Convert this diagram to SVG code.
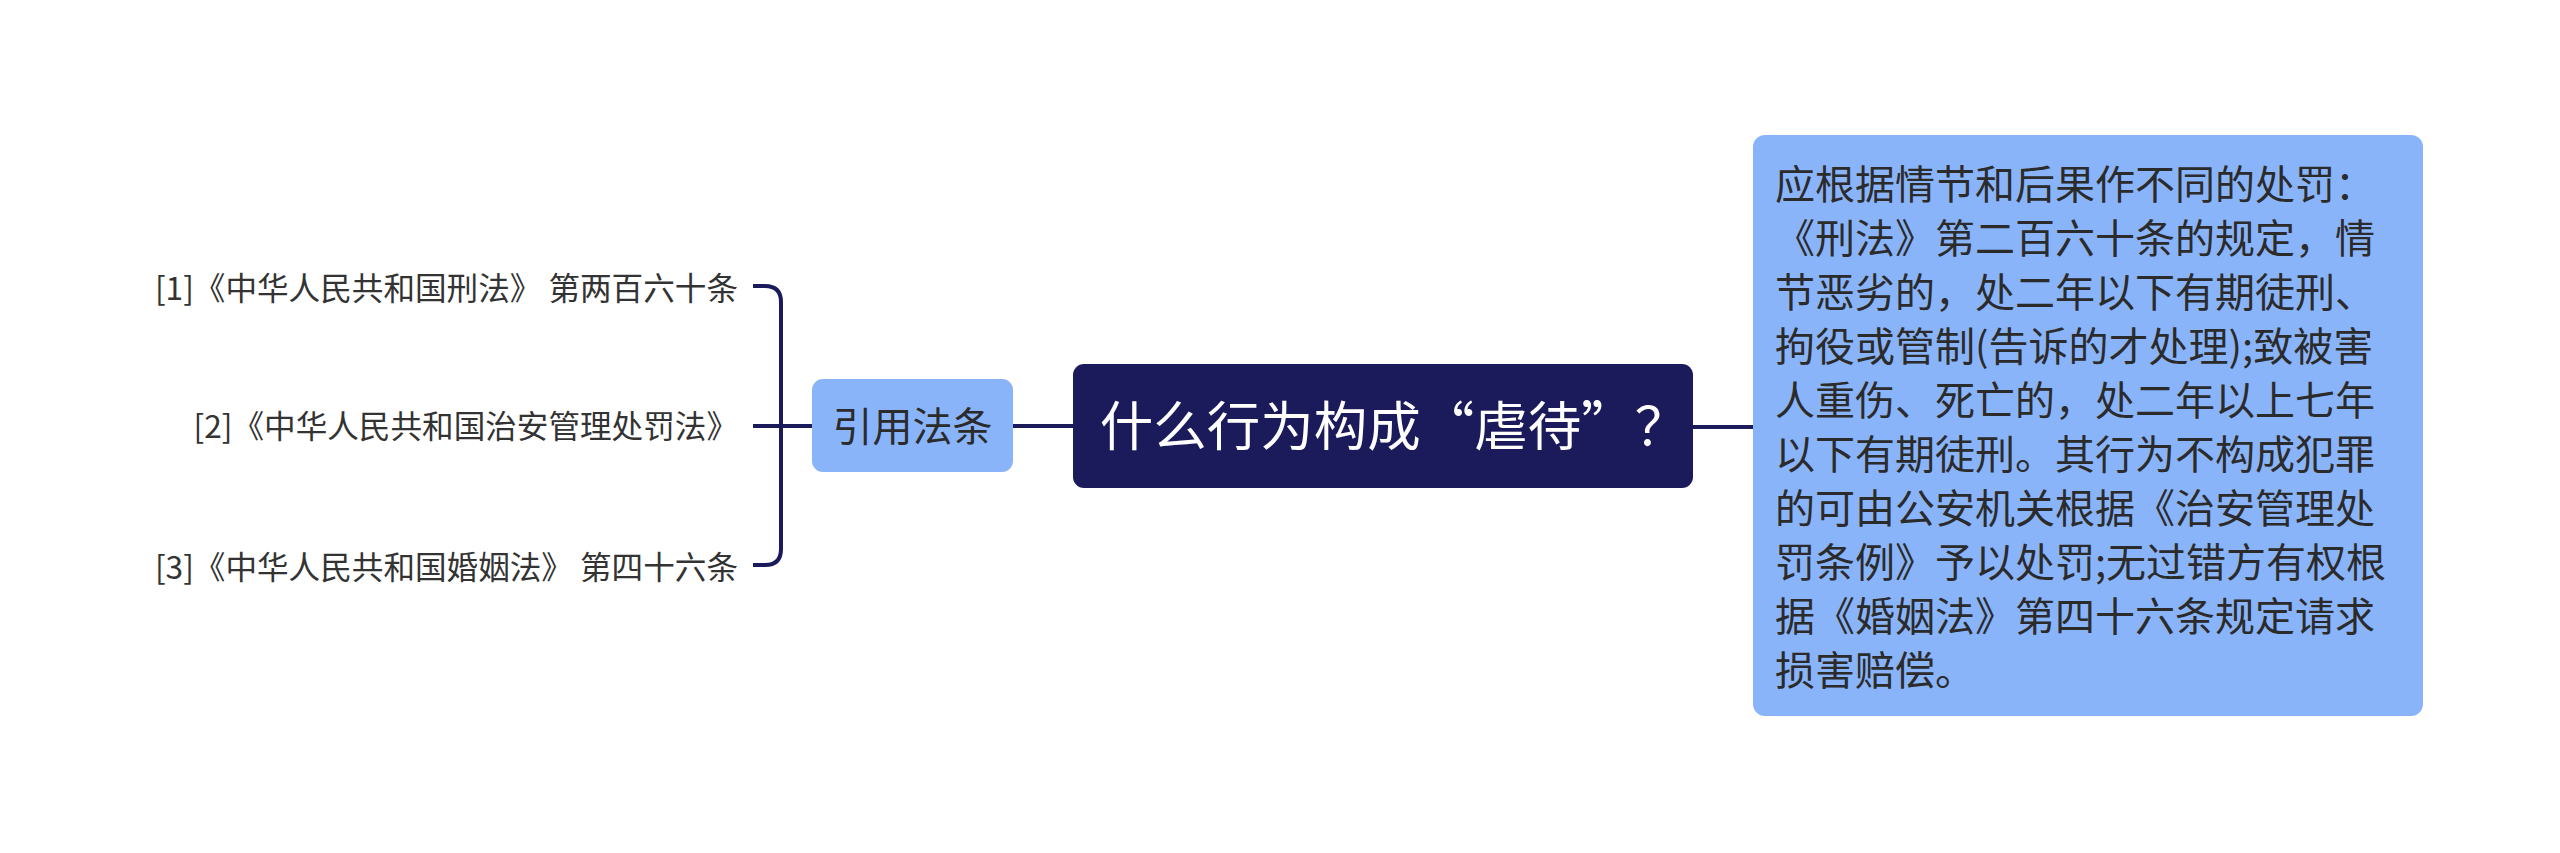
<svg xmlns="http://www.w3.org/2000/svg" width="2560" height="853" viewBox="0 0 2560 853">
<style>
.cjk{font-family:"Noto Sans CJK SC","Microsoft YaHei",sans-serif}
.leaf{font-size:31.6px;fill:#333333;text-anchor:end}
.link{fill:none;stroke:#1b1a5b;stroke-width:4;stroke-linecap:butt}
.light{fill:#8ab4f9}
.body{font-size:40px;fill:#2b2b2b}
</style>
<rect width="2560" height="853" fill="#ffffff"/>
<g id="connectors">
<path class="link" d="M753 286 H765 Q781 286 781 302 V549 Q781 565 765 565 H753"/>
<path class="link" d="M753 426 H812"/>
<path class="link" d="M1013 426 H1073"/>
<path class="link" d="M1693 427 H1753"/>
</g>
<g id="root">
<rect x="1073" y="364" width="620" height="124" rx="11" fill="#1b1a5b"/>
<text class="cjk" x="1394" y="446" font-size="53.5" fill="#ffffff" text-anchor="middle">什么行为构成“虐待”？</text>
</g>
<g id="cite">
<rect class="light" x="812" y="379" width="201" height="93" rx="11"/>
<text class="cjk" x="912.5" y="441" font-size="40" fill="#2b2b2b" text-anchor="middle">引用法条</text>
</g>
<g id="leaf1"><text class="cjk leaf" x="738" y="300">[1]《中华人民共和国刑法》 第两百六十条</text></g>
<g id="leaf2"><text class="cjk leaf" x="738" y="438">[2]《中华人民共和国治安管理处罚法》</text></g>
<g id="leaf3"><text class="cjk leaf" x="738" y="579">[3]《中华人民共和国婚姻法》 第四十六条</text></g>
<g id="detail">
<rect class="light" x="1753" y="135" width="670" height="581" rx="12"/>
<text class="cjk body">
<tspan x="1775" y="199">应根据情节和后果作不同的处罚：</tspan>
<tspan x="1775" y="253">《刑法》第二百六十条的规定，情</tspan>
<tspan x="1775" y="307">节恶劣的，处二年以下有期徒刑、</tspan>
<tspan x="1775" y="361">拘役或管制(告诉的才处理);致被害</tspan>
<tspan x="1775" y="415">人重伤、死亡的，处二年以上七年</tspan>
<tspan x="1775" y="469">以下有期徒刑。其行为不构成犯罪</tspan>
<tspan x="1775" y="523">的可由公安机关根据《治安管理处</tspan>
<tspan x="1775" y="577">罚条例》予以处罚;无过错方有权根</tspan>
<tspan x="1775" y="631">据《婚姻法》第四十六条规定请求</tspan>
<tspan x="1775" y="685">损害赔偿。</tspan>
</text>
</g>
</svg>
